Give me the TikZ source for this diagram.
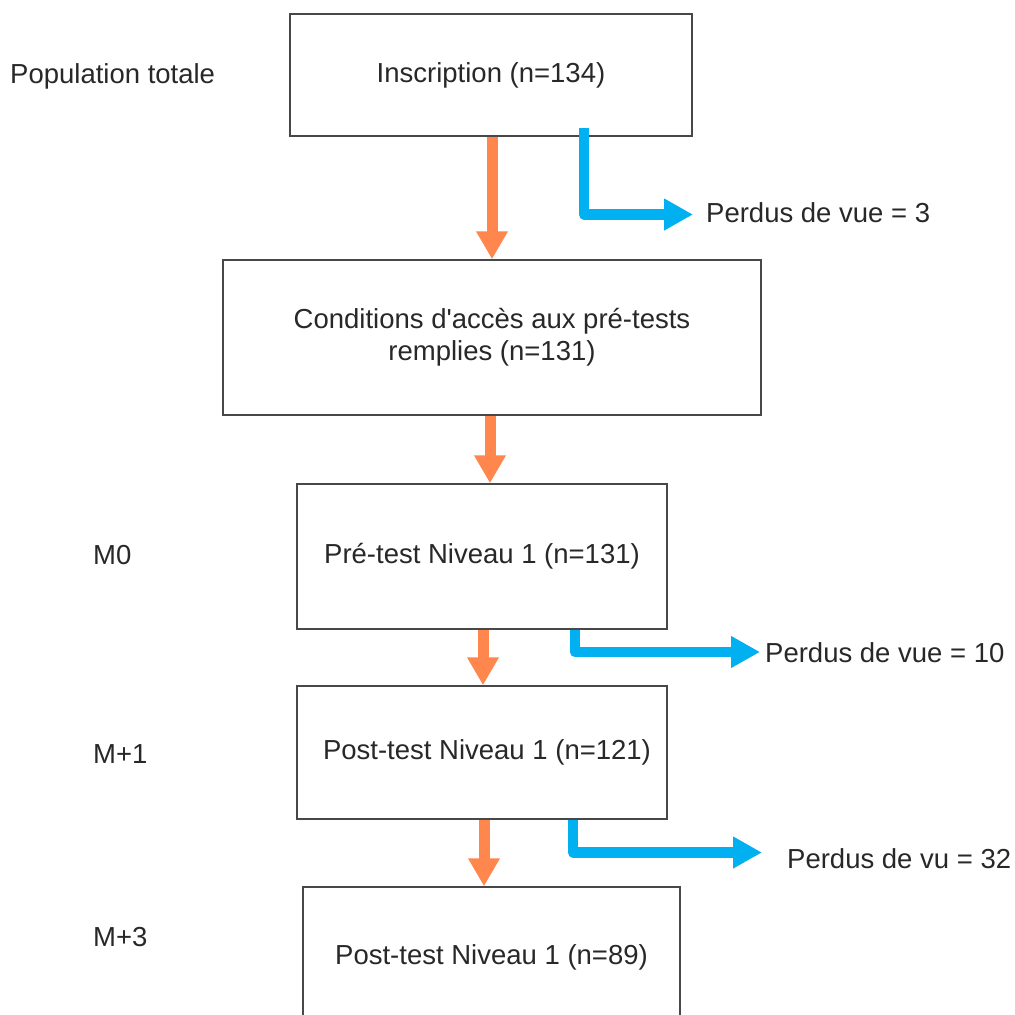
\documentclass[tikz,border=0pt]{standalone}
\usepackage{fontspec}
\setmainfont{Liberation Sans}[Ligatures=TeXOff]
\usetikzlibrary{arrows.meta}
\definecolor{arrowor}{RGB}{255,135,78}
\definecolor{arrowbl}{RGB}{0,176,240}
\definecolor{txt}{RGB}{40,40,40}
\begin{document}
\begin{tikzpicture}[x=1pt,y=-1pt,
  box/.style={draw=txt!85, line width=1.5pt, fill=white, inner sep=0pt, align=center,
              text=txt, font=\fontsize{27.5}{33}\selectfont},
  lbl/.style={text=txt, inner sep=0pt, anchor=west, font=\fontsize{27.5}{33}\selectfont},
  oarrow/.style={draw=arrowor, line width=11pt, -{Triangle[length=28pt,width=30pt]}},
  barrow/.style={draw=arrowbl, line width=10.5pt, line join=round, line cap=butt,
                 -{Triangle[length=29pt,width=30pt]}}]
\useasboundingbox (0,0) rectangle (1015,1015);
\clip (0,0) rectangle (1015,1015);
\fill[white] (0,0) rectangle (1015,1015);

% boxes
\node[box, minimum width=402pt, minimum height=122pt] (ins) at (491,75) {Inscription (n=134)};
\node[box, minimum width=538pt, minimum height=155pt] (cond) at (492,337.5)
  {Conditions d'accès aux pré-tests\\[-1pt]remplies (n=131)};
\node[box, minimum width=370pt, minimum height=145pt] (pre) at (482,556.5) {Pré-test Niveau 1 (n=131)};
\node[box, minimum width=370pt, minimum height=133pt] (post1) at (482,752.5) {\hspace*{10pt}Post-test Niveau 1 (n=121)};
\node[box, minimum width=377pt, minimum height=140pt] (post3) at (491.5,957) {Post-test Niveau 1 (n=89)};

% side labels
\node[lbl] (pop) at (10,76) {Population totale};
\node[lbl] (m0) at (93,555) {M0};
\node[lbl] (m1) at (93,754) {M+1};
\node[lbl] (m3) at (93,937) {M+3};

% lost-to-follow-up labels
\node[lbl] (l1) at (706,213) {Perdus de vue = 3};
\node[lbl] (l2) at (765,653) {Perdus de vue = 10};
\node[lbl] (l3) at (787,859) {Perdus de vu = 32};

% orange arrows
\coordinate (o1) at (492,0);
\coordinate (o2) at (490,0);
\coordinate (o3) at (483,0);
\coordinate (o4) at (484,0);
\draw[oarrow] (ins.south -| o1) -- (cond.north -| o1);
\draw[oarrow] (cond.south -| o2) -- (pre.north -| o2);
\draw[oarrow] (pre.south -| o3) -- (post1.north -| o3);
\draw[oarrow] (post1.south -| o4) -- (post3.north -| o4);

% blue arrows
\coordinate (b1) at (584,128);
\coordinate (t1) at (693,214.5);
\coordinate (b2) at (575,630);
\coordinate (t2) at (760,652);
\coordinate (b3) at (573,820);
\coordinate (t3) at (762,852.5);
\draw[barrow] (b1) |- (t1);
\draw[barrow] (b2) |- (t2);
\draw[barrow] (b3) |- (t3);
\end{tikzpicture}
\end{document}
